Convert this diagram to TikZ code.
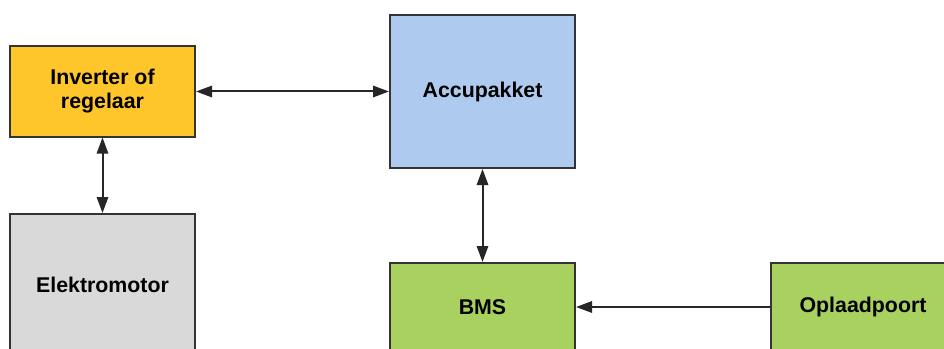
\documentclass[tikz,border=0pt]{standalone}
\usepackage{fontspec}
\setmainfont{Liberation Sans}
\usetikzlibrary{arrows.meta}
\definecolor{cOrange}{HTML}{FFC62C}
\definecolor{cBlue}{HTML}{AECBEF}
\definecolor{cGrey}{HTML}{D9D9D9}
\definecolor{cGreen}{HTML}{A9D15F}
\definecolor{cEdge}{HTML}{333333}
\tikzset{
  blok/.style={draw=cEdge, line width=1.5pt, align=center, inner sep=0pt,
    font=\fontsize{16}{18}\selectfont\bfseries, text=black},
  kop/.tip={Triangle[length=12pt,width=8.5pt]},
  pijl/.style={draw=black!85, line width=1.5pt, -kop},
  pijl2/.style={draw=black!85, line width=1.5pt, kop-kop}
}
\begin{document}
\begin{tikzpicture}[x=0.75pt,y=-0.75pt]
\useasboundingbox (0,0) rectangle (944,349);
\clip (0,0) rectangle (944,349);
\fill[white] (0,0) rectangle (944,349);
\node[blok, fill=cOrange, minimum width=138.75pt, minimum height=67.5pt] (inv) at (102.5,91.5) {Inverter of\\regelaar};
\node[blok, fill=cBlue, minimum width=138.75pt, minimum height=114.75pt] (acc) at (482.5,91.5) {Accupakket};
\node[blok, fill=cGrey, minimum width=138.75pt, minimum height=106.5pt] (mot) at (102.5,285) {Elektromotor};
\node[blok, fill=cGreen, minimum width=138.75pt, minimum height=66pt] (bms) at (482.5,307) {BMS};
\node[blok, fill=cGreen, minimum width=138pt, minimum height=66pt] (opl) at (863,307) {Oplaadpoort};
\draw[pijl2] (inv.east) -- (acc.west);
\draw[pijl2] (inv.south) -- (mot.north);
\draw[pijl2] (acc.south) -- (bms.north);
\draw[pijl] (opl.west) -- (bms.east);
\end{tikzpicture}
\end{document}
